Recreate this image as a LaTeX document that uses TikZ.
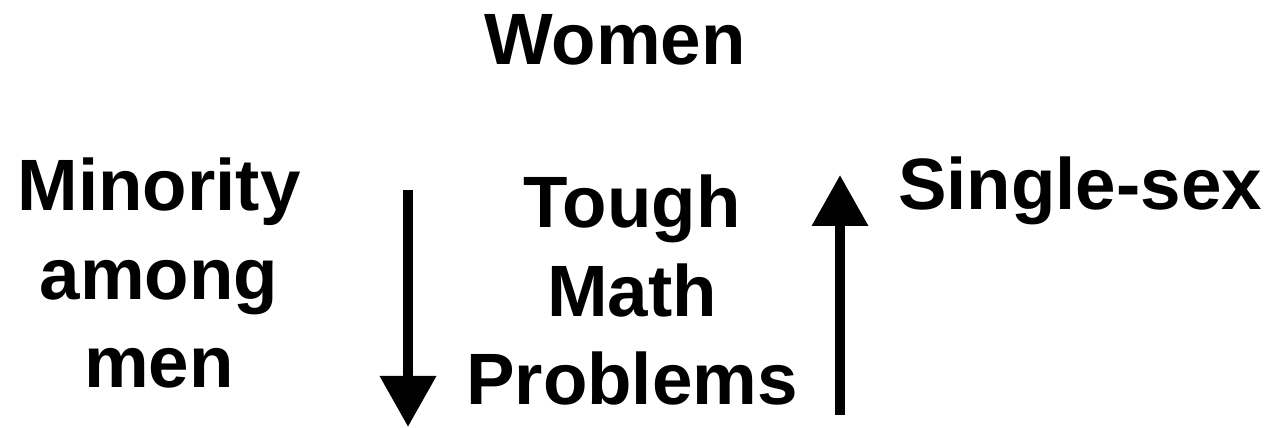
\documentclass[tikz,border=0pt]{standalone}
\usepackage{fontspec}
\setmainfont{Liberation Sans}
\usetikzlibrary{arrows.meta}

\begin{document}
\begin{tikzpicture}
        \tikzset{every node/.style = {inner sep=0pt, align=center, anchor=base,
                 font=\fontsize{20.7pt}{25.3pt}\selectfont\bfseries}}
        \tikzset{bigarrow/.style = {line width=0.1cm,
                 -{Triangle[width=0.54cm, length=0.51cm]}}}

        \useasboundingbox (0, 0) rectangle (12.82, -4.28);

        \node (women) at (6.15, -0.65) {Women};
        \node (minority) at (1.59, -3.88) {Minority\\among\\men};
        \node (tough) at (6.32, -4.05) {Tough\\Math\\Problems};
        \node (single) at (10.80, -2.10) {Single-sex};

        \coordinate (downtop) at (4.08, -1.90);
        \coordinate (downtip) at (4.08, -4.27);
        \coordinate (upbottom) at (8.40, -4.15);
        \coordinate (uptip) at (8.40, -1.75);

        \draw[bigarrow] (downtop) -- (downtip);
        \draw[bigarrow] (upbottom) -- (uptip);

    \end{tikzpicture}
\end{document}
